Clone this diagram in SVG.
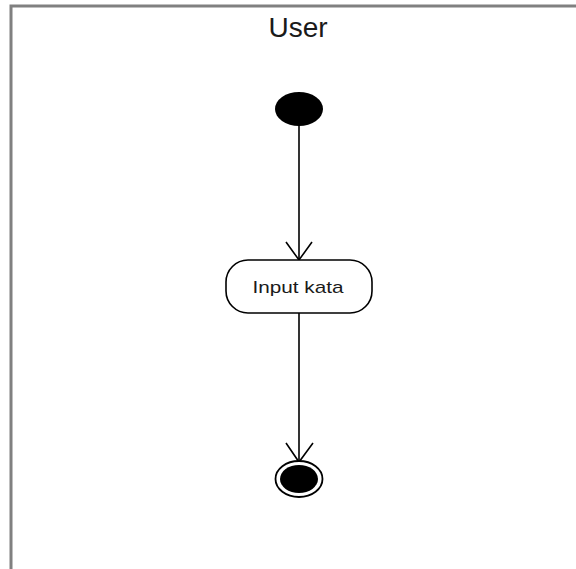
<svg xmlns="http://www.w3.org/2000/svg" width="576" height="569" viewBox="0 0 576 569">
<style>
.frame{fill:none;stroke:#808080;stroke-width:3}
.edge{fill:none;stroke:#000;stroke-width:1.6}
.txt{font-family:"Liberation Sans",Arial,sans-serif;fill:#1a1a1a}
</style>
<rect width="576" height="569" fill="#fff"/>
<g id="lane">
<path class="frame" d="M11,569 V6 H576"/>
<text class="txt" x="298" y="37" font-size="28" text-anchor="middle">User</text>
</g>
<g id="connectors">
<path class="edge" d="M299,125 V259"/>
<path class="edge" d="M286,242 L299,260 L312,242"/>
<path class="edge" d="M299,313 V462"/>
<path class="edge" d="M286,443 L299,462 L313,443"/>
</g>
<g id="start">
<ellipse cx="299" cy="109" rx="24" ry="17" fill="#000"/>
</g>
<g id="input-kata">
<rect x="226" y="260" width="146" height="53" rx="22" ry="22" fill="#fff" stroke="#000" stroke-width="1.6"/>
<text class="txt" x="298" y="293" font-size="17" text-anchor="middle" textLength="91" lengthAdjust="spacingAndGlyphs">Input kata</text>
</g>
<g id="end">
<ellipse cx="299" cy="479" rx="23.5" ry="18" fill="#fff" stroke="#000" stroke-width="1.8"/>
<ellipse cx="299" cy="479" rx="19" ry="14" fill="#000"/>
</g>
</svg>
